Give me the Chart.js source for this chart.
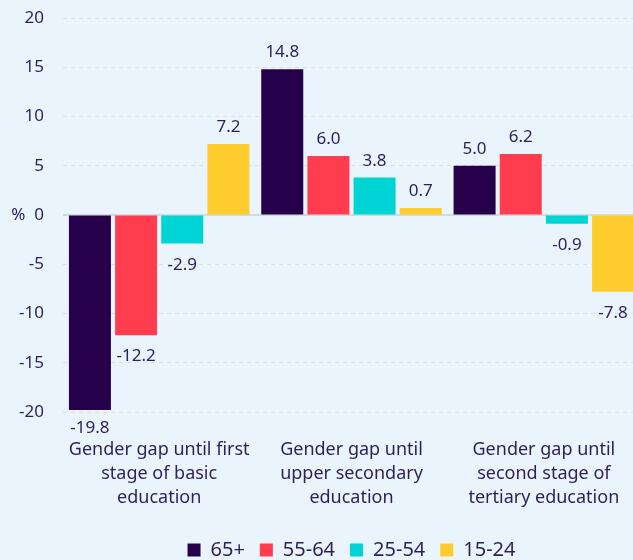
<!DOCTYPE html>
<html>
<head>
<meta charset="utf-8">
<script src="https://cdn.jsdelivr.net/npm/chart.js@4/dist/chart.umd.min.js"></script>
<style>
html,body{margin:0;padding:0;background:#eaf4fd;overflow:hidden;}
#wrap{position:relative;width:640px;height:570px;}
</style>
</head>
<body>
<div id="wrap"><canvas id="c"></canvas></div>
<script>
const categories = [
  ["Gender gap until first", "stage of basic", "education"],
  ["Gender gap until", "upper secondary", "education"],
  ["Gender gap until", "second stage of", "tertiary education"]
];
const seriesNames = ["65+", "55-64", "25-54", "15-24"];
const values65 = [-19.8, 14.8, 5.0];
const values55 = [-12.2, 6.0, 6.2];
const values25 = [-2.9, 3.8, -0.9];
const values15 = [7.2, 0.7, -7.8];
const colors = ["#26004a", "#ff3d4f", "#00d4d4", "#ffcc2e"];
const yTicks = [-20, -15, -10, -5, 0, 5, 10, 15, 20];

const textColor = "#2d1f57";
const font = "'Noto Sans', sans-serif";

const labelPlugin = {
  id: 'valueLabels',
  afterLayout(chart) {
    const lg = chart.legend;
    const ca = chart.chartArea;
    if (lg && ca) {
      const delta = (ca.left + ca.right) / 2 - (lg.left + lg.right) / 2;
      lg.left += delta; lg.right += delta;
    }
  },
  beforeDatasetsDraw(chart) {
    const ctx = chart.ctx;
    const y = chart.scales.y.getPixelForValue(0);
    const ca = chart.chartArea;
    ctx.save();
    ctx.strokeStyle = '#cfd3d8';
    ctx.lineWidth = 1.5;
    ctx.beginPath();
    ctx.moveTo(ca.left, y);
    ctx.lineTo(ca.right, y);
    ctx.stroke();
    ctx.restore();
  },
  afterDatasetsDraw(chart) {
    const ctx = chart.ctx;
    const ca = chart.chartArea;
    ctx.save();
    ctx.font = "17px " + font;
    ctx.fillStyle = textColor;
    ctx.textAlign = 'center';
    ctx.textBaseline = 'alphabetic';
    chart.data.datasets.forEach((ds, i) => {
      const meta = chart.getDatasetMeta(i);
      meta.data.forEach((bar, j) => {
        const v = ds.data[j];
        const txt = v.toFixed(1);
        if (v >= 0) {
          ctx.fillText(txt, bar.x, bar.y - 12);
        } else {
          ctx.fillText(txt, bar.x, Math.min(bar.y + 26, ca.bottom + 21));
        }
      });
    });
    ctx.restore();
  }
};

const allSeries = [values65, values55, values25, values15];
new Chart(document.getElementById('c'), {
  type: 'bar',
  data: {
    labels: categories,
    datasets: allSeries.map((d, i) => ({
      label: seriesNames[i],
      data: d,
      backgroundColor: colors[i],
      borderWidth: 0,
      categoryPercentage: 0.96,
      barPercentage: 0.91
    }))
  },
  options: {
    responsive: true,
    maintainAspectRatio: false,
    animation: false,
    layout: { padding: { top: 0, right: 0, left: 0, bottom: 0 } },
    plugins: {
      legend: {
        position: 'bottom',
        labels: {
          color: textColor,
          font: { family: font, size: 20 },
          boxWidth: 13,
          boxHeight: 13,
          padding: 15
        }
      },
      tooltip: { enabled: false }
    },
    scales: {
      x: {
        grid: { display: false },
        border: { display: false },
        afterFit(scale) { scale.height = 113; scale.paddingLeft = 0; scale.paddingRight = 0; },
        ticks: {
          color: textColor,
          font: { family: font, size: 18, lineHeight: 1.34 },
          padding: 18,
          maxRotation: 0,
          autoSkip: false
        }
      },
      y: {
        min: -20, max: 20,
        afterBuildTicks(scale) { scale.ticks = yTicks.map(v => ({ value: v })); },
        afterFit(scale) { scale.width = 63; scale.paddingTop = 18; scale.paddingBottom = 0; },
        border: { display: false, dash: [4, 4] },
        grid: {
          color: '#dcdfe2',
          lineWidth: 1,
          drawTicks: false
        },
        ticks: {
          color: textColor,
          font: { family: font, size: 17 },
          padding: 19,
          callback: (v) => v === 0 ? '%  0' : String(v)
        }
      }
    }
  },
  plugins: [labelPlugin]
});
</script>
</body>
</html>
